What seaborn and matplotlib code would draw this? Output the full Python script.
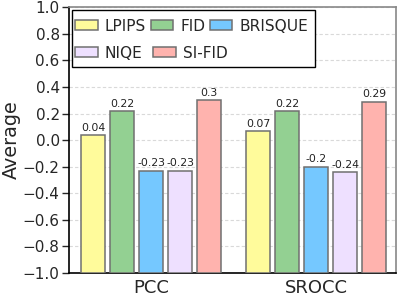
import numpy as np
import pandas as pd
import matplotlib
matplotlib.use("Agg")
import matplotlib.pyplot as plt
from matplotlib.patches import Rectangle
import seaborn as sns

#------------------chart data-------------------
metrics = ["PCC", "SROCC"]
methods = ["LPIPS", "FID", "BRISQUE", "NIQE", "SI-FID"]
pcc_vals = [0.04, 0.22, -0.23, -0.23, 0.3]
srocc_vals = [0.07, 0.22, -0.2, -0.24, 0.29]
y_ticks = [-1.0, -0.8, -0.6, -0.4, -0.2, 0.0, 0.2, 0.4, 0.6, 0.8, 1.0]
colors = ["#FFFB9B", "#93D092", "#75C8FF", "#EEE0FF", "#FFB3AE"]
base = -1.0  # bars start at the bottom of the axis


def main():
    sns.set_style("white")
    plt.rcParams["font.family"] = ["DejaVu Sans"]

    rows = []
    for i, m in enumerate(methods):
        rows.append({"metric": "PCC", "method": m, "value": pcc_vals[i]})
        rows.append({"metric": "SROCC", "method": m, "value": srocc_vals[i]})
    df = pd.DataFrame(rows)
    df["height"] = df["value"] - base

    fig = plt.figure(figsize=(3.99, 2.97), dpi=100)
    ax = fig.add_axes([0.174, 0.082, 0.819, 0.893])

    sns.barplot(data=df, x="metric", y="height", hue="method",
                order=metrics, hue_order=methods, palette=colors,
                errorbar=None, width=0.876, gap=0.17, bottom=base,
                edgecolor="#707070", linewidth=1.1, saturation=1,
                legend=False, ax=ax, zorder=3)

    #value labels on top of bars
    for i, cont in enumerate(ax.containers):
        labs = [f"{pcc_vals[i]:g}", f"{srocc_vals[i]:g}"]
        ax.bar_label(cont, labels=labs, padding=1.5, fontsize=7.8,
                     color="#222222")

    ax.set_ylim(-1, 1)
    ax.set_xlim(-0.495, 1.485)
    ax.set_yticks(y_ticks)
    ax.set_yticklabels([f"{v:.1f}".replace("-", "\u2212") for v in y_ticks],
                       fontsize=11)
    ax.tick_params(axis="y", left=True, length=5, width=1, pad=2)
    ax.tick_params(axis="x", bottom=False, labelsize=13, pad=1)
    ax.set_xlabel("")
    ax.set_ylabel("Average", fontsize=13.8, labelpad=1)

    ax.grid(axis="y", color="#d9d9d9", linestyle=(0, (3, 2)), linewidth=0.8,
            zorder=0)
    ax.set_axisbelow(True)

    for s in ["left", "bottom"]:
        ax.spines[s].set_color("black")
        ax.spines[s].set_linewidth(1.2)
    for s in ["top", "right"]:
        ax.spines[s].set_color("#888888")
        ax.spines[s].set_linewidth(1.2)

    #legend: two rows (LPIPS FID BRISQUE / NIQE SI-FID) inside one box
    handles = [c.patches[0] for c in ax.containers]
    leg_kw = dict(loc="center left", fontsize=11.1, frameon=False,
                  handlelength=1.47, handleheight=0.64, handletextpad=0.45,
                  borderpad=0, borderaxespad=0)
    leg1 = ax.legend(handles[:3], methods[:3], ncol=3, columnspacing=0.3,
                     bbox_to_anchor=(0.0174, 0.929), **leg_kw)
    ax.add_artist(leg1)
    leg2 = ax.legend(handles[3:], methods[3:], ncol=2, columnspacing=0.7,
                     bbox_to_anchor=(0.0174, 0.828), **leg_kw)
    ax.add_patch(Rectangle((0.0073, 0.774), 0.7445, 0.2172,
                           transform=ax.transAxes, facecolor="white",
                           edgecolor="black", linewidth=1.0, zorder=4))

    fig.savefig("out.png", dpi=100)


if __name__ == '__main__':
    main()
